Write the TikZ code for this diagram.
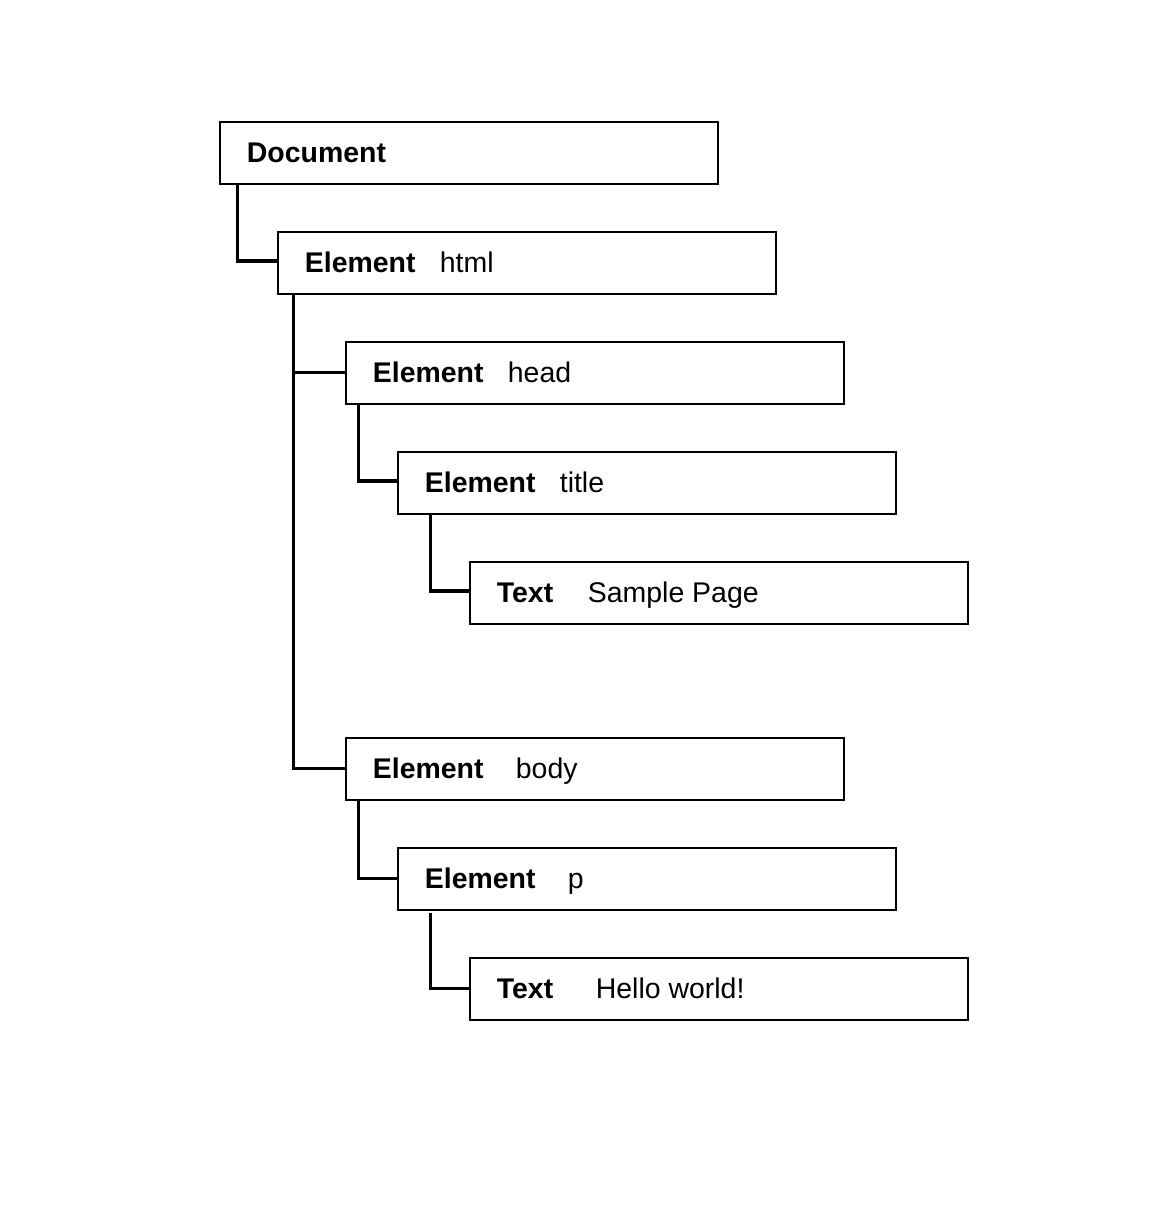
\documentclass[tikz,border=0pt]{standalone}
\usepackage{fontspec}
\setmainfont{Liberation Sans}
\usetikzlibrary{positioning}
\def\px{0.02cm}
\tikzset{
	domnode/.style={draw,rectangle,line width=1.15pt,minimum width=498*\px,minimum height=62*\px,anchor=north west,inner sep=0pt},
	kindlabel/.style={anchor=base west,inner sep=0pt,font=\fontsize{16.2}{19}\selectfont\bfseries},
	valuelabel/.style={anchor=base west,inner sep=0pt,font=\fontsize{16.2}{19}\selectfont},
	conn/.style={line width=2.1pt}
}
\newcommand{\domnode}[6]{\node[domnode] (#3) at (#1,#2) {};
	\node[kindlabel] (#3-kind) at ([xshift=28*\px,yshift=-10*\px]#3.west) {#4};
	\node[valuelabel] (#3-value) at ([xshift=#6*\px,yshift=-10*\px]#3.west) {#5}; }

\begin{document}
\begin{tikzpicture}[x=\px,y=-\px]
				\useasboundingbox (0,0) rectangle (1168,1232);
				\domnode{218.5}{120.5}{doc}{Document}{}{0}
				\domnode{276.5}{230.5}{html}{Element}{html}{163}
				\domnode{344.5}{340.5}{head}{Element}{head}{163}
				\domnode{396.5}{450.5}{title}{Element}{title}{163}
				\domnode{468.5}{560.5}{sample}{Text}{Sample Page}{119}
				\domnode{344.5}{736.5}{body}{Element}{body}{171}
				\domnode{396.5}{846.5}{p}{Element}{p}{171}
				\domnode{468.5}{956.5}{hello}{Text}{Hello world!}{127}

				\draw[conn] ([xshift=19*\px]doc.south west) |- ([yshift=1.5*\px]html.west);
				\draw[conn] ([xshift=17*\px]html.south west) |- (head.west);
				\draw[conn] ([xshift=17*\px]html.south west) |- (body.west);
				\draw[conn] ([xshift=14*\px]head.south west) |- ([yshift=1.5*\px]title.west);
				\draw[conn] ([xshift=34*\px]title.south west) |- ([yshift=1.5*\px]sample.west);
				\draw[conn] ([xshift=14*\px]body.south west) |- (p.west);
				\draw[conn] ([xshift=34*\px,yshift=-2*\px]p.south west) |- (hello.west);
\end{tikzpicture}
\end{document}
